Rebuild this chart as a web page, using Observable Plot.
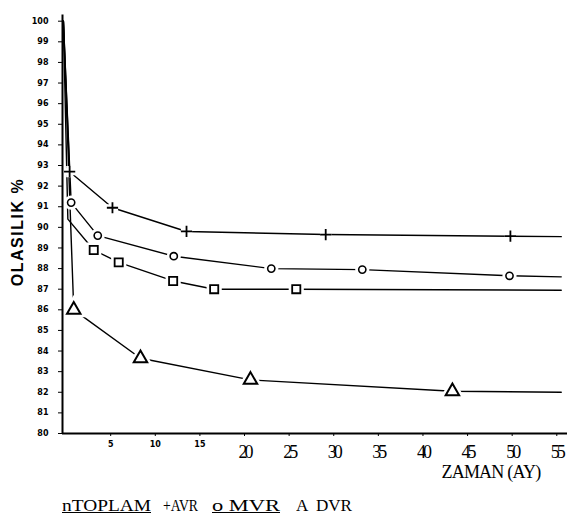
<!DOCTYPE html>
<html><head><meta charset="utf-8">
<script src="https://cdn.jsdelivr.net/npm/d3@7"></script>
<script src="https://cdn.jsdelivr.net/npm/@observablehq/plot@0.6"></script>
<style>
body{margin:0;background:#fff;}
#wrap{position:relative;width:567px;}
#ylabel{position:absolute;left:18px;top:232px;transform:translate(-50%,-50%) rotate(-90deg);font:bold 16px "Liberation Sans",Arial,sans-serif;letter-spacing:1.5px;white-space:nowrap;line-height:1;color:#000;}
#legend{position:relative;width:567px;height:40px;font-family:"Liberation Serif","Times New Roman",serif;font-size:16px;color:#000;}
#legend span{position:absolute;top:18px;line-height:1;white-space:pre;display:inline-block;transform-origin:0 0;}
#legend span.u{text-decoration:underline;}
</style></head><body><div id="wrap"></div><div id="legend"></div>
<script>
// ---- data ----
const yTicks = [80,81,82,83,84,85,86,87,88,89,90,91,92,93,94,95,96,97,98,99,100];
const xTicksSmall = [5,10,15];
const xTicksLarge = [20,25,30,35,40,45,50,55];
const xDomain = [-0.4, 56.2];
const yDomain = [80, 100];
const yTitle = "OLASILIK %";
const xTitle = "ZAMAN (AY)";

const seriesNames = ["TOPLAM","AVR","MVR","DVR"];
const toplamX = [-0.3, 0.2, 3.1, 5.9, 12.0, 16.6, 25.8, 55.5];
const toplamY = [100, 90.4, 88.9, 88.3, 87.4, 87.0, 87.0, 86.95];
const toplamM = [0,0,1,1,1,1,1,0];
const avrX = [-0.3, 0.4, 5.2, 13.5, 29.1, 49.8, 55.5];
const avrY = [100, 92.7, 90.95, 89.8, 89.65, 89.57, 89.55];
const avrM = [0,1,1,1,1,1,0];
const mvrX = [-0.3, 0.57, 3.55, 12.07, 23.0, 33.2, 49.7, 55.5];
const mvrY = [100, 91.2, 89.6, 88.6, 88.0, 87.95, 87.65, 87.6];
const mvrM = [0,1,1,1,1,1,1,0];
const dvrX = [-0.3, 0.86, 8.34, 20.67, 43.3, 55.5];
const dvrY = [100, 86.0, 83.65, 82.6, 82.05, 82.0];
const dvrM = [0,1,1,1,1,0];

const legendItems = [
  {text:"nTOPLAM", left:62, w:89, u:true},
  {text:"+AVR", left:163, w:35, u:false},
  {text:"o MVR", left:212, w:68, u:true},
  {text:"A  DVR", left:296, w:56, u:false}
];

// ---- build table ----
function rowsOf(name, xs, ys, ms){ return xs.map((x,i)=>({series:name, x, y:ys[i], m:ms[i]})); }
const rows = [
  ...rowsOf("TOPLAM", toplamX, toplamY, toplamM),
  ...rowsOf("AVR", avrX, avrY, avrM),
  ...rowsOf("MVR", mvrX, mvrY, mvrM),
  ...rowsOf("DVR", dvrX, dvrY, dvrM)
];
const symbolOf = {TOPLAM:"square", AVR:"plus", MVR:"circle", DVR:"triangle"};
const rOf = {TOPLAM:4.6, AVR:3.7, MVR:3.6, DVR:5};
const swOf = {TOPLAM:1.8, AVR:1.8, MVR:1.6, DVR:2};

const markerMarks = [];
for (const s of seriesNames) {
  const pts = rows.filter(d => d.series === s && d.m);
  markerMarks.push(Plot.dot(pts, {x:"x", y:"y", symbol:()=>symbolOf[s], r:rOf[s], fill:"white", stroke:"white", strokeWidth:7}));
}
for (const s of seriesNames) {
  const pts = rows.filter(d => d.series === s && d.m);
  markerMarks.push(Plot.dot(pts, {x:"x", y:"y", symbol:()=>symbolOf[s], r:rOf[s], fill:"white", stroke:"black", strokeWidth:swOf[s]}));
}

const plot = Plot.plot({
  width: 567, height: 480,
  marginLeft: 62, marginRight: 0, marginTop: 20.7, marginBottom: 47,
  x: {domain: xDomain},
  y: {domain: yDomain},
  symbol: {type: "identity"},
  style: {background: "white", color: "black", overflow: "visible"},
  marks: [
    Plot.line(rows, {x:"x", y:"y", z:"series", stroke:"black", strokeWidth:1.4}),
    ...markerMarks,
    Plot.ruleY([yDomain[0]], {strokeWidth: 2}),
    Plot.ruleX([xDomain[0]], {y1: yDomain[0], y2: yDomain[1] + 0.3, strokeWidth: 2}),
    Plot.axisY(yTicks, {tickSize:4, tickPadding:10, fontSize:8, fontWeight:"bold", fontFamily:"DejaVu Sans", label:null}),
    Plot.axisX(xTicksSmall, {tickSize:3, tickPadding:5, fontSize:8, fontWeight:"bold", fontFamily:"DejaVu Sans", label:null}),
    Plot.axisX(xTicksLarge, {tickSize:3, tickPadding:9, fontSize:18, fontFamily:"Liberation Serif", label:null}),
    Plot.text([xTitle], {frameAnchor:"bottom-right", textAnchor:"start", dx:-126, dy:44, fontSize:18, fontFamily:"Liberation Serif"})
  ]
});
const wrap = document.getElementById("wrap");
wrap.appendChild(plot);
const yl = document.createElement("div");
yl.id = "ylabel";
yl.textContent = yTitle;
wrap.appendChild(yl);

// letter spacing tweaks
const large = xTicksLarge.map(String);
plot.querySelectorAll("text").forEach(t => {
  const s = t.textContent;
  if (large.includes(s)) t.setAttribute("letter-spacing", "-3");
  if (s === xTitle) t.setAttribute("letter-spacing", "-0.8");
});

const lg = document.getElementById("legend");
for (const it of legendItems) {
  const sp = document.createElement("span");
  sp.textContent = it.text;
  sp.style.left = it.left + "px";
  if (it.u) sp.className = "u";
  lg.appendChild(sp);
  const nat = sp.getBoundingClientRect().width;
  if (nat > 0) sp.style.transform = `scaleX(${it.w / nat})`;
}
</script></body></html>
